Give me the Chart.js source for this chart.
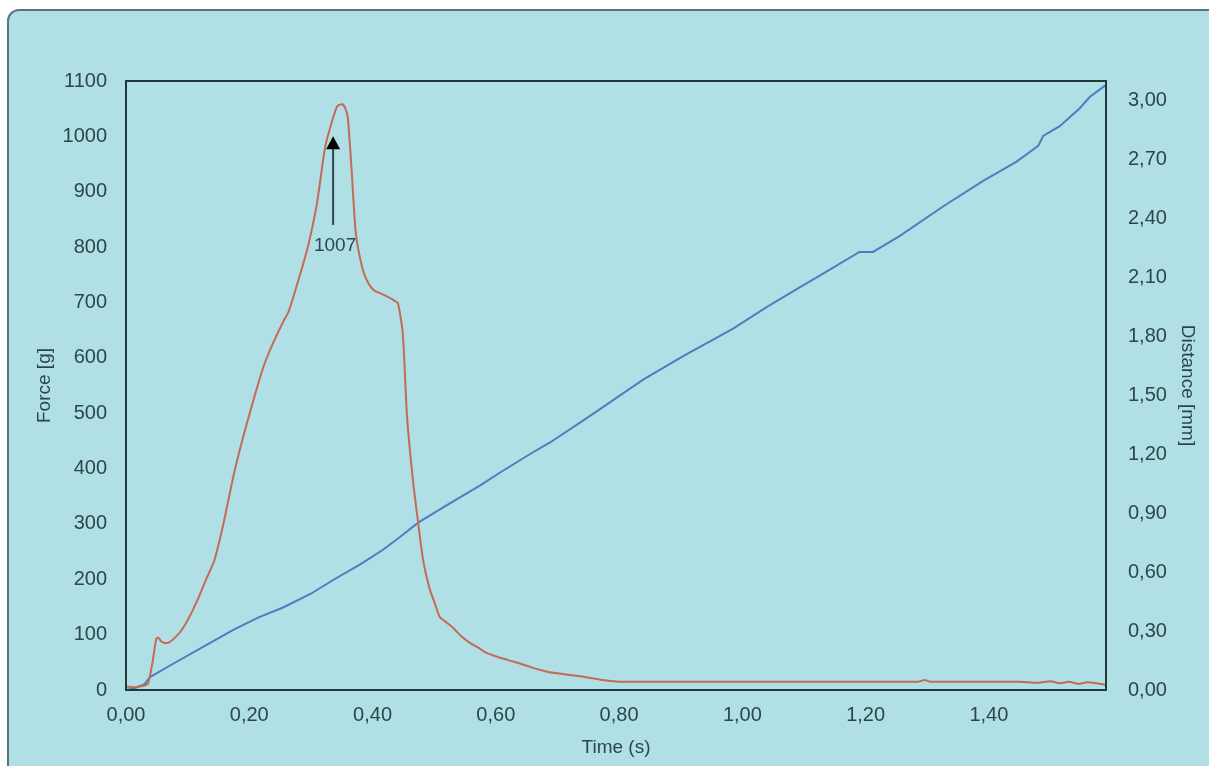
<!DOCTYPE html>
<html>
<head>
<meta charset="utf-8">
<script src="https://cdn.jsdelivr.net/npm/chart.js@4"></script>
<style>
  html, body { margin: 0; padding: 0; background: #fff; overflow: hidden; }
  #panel {
    position: absolute; left: 7px; top: 9px; width: 1220px; height: 780px;
    border: 2px solid #56777b; border-radius: 12px; background: #b0e0e6;
  }
  #wrap { position: absolute; left: 0; top: 0; width: 1209px; height: 766px; }
</style>
</head>
<body>
<div id="panel"></div>
<div id="wrap"><canvas id="graph-force" width="1209" height="766"></canvas></div>
<script>
// force curve (time in s, force in g)
const forceTime = [0.000, 0.010, 0.020, 0.030, 0.036, 0.043, 0.049, 0.052, 0.057, 0.063,
  0.070, 0.080, 0.090, 0.101, 0.115, 0.130, 0.143, 0.158, 0.174, 0.186,
  0.198, 0.211, 0.224, 0.240, 0.255, 0.264, 0.281, 0.295, 0.310, 0.323,
  0.335, 0.343, 0.351, 0.356, 0.360, 0.366, 0.373, 0.384, 0.393, 0.402,
  0.412, 0.425, 0.433, 0.441, 0.449, 0.456, 0.466, 0.474, 0.482, 0.493,
  0.500, 0.509, 0.520, 0.531, 0.545, 0.558, 0.572, 0.585, 0.602, 0.620,
  0.639, 0.660, 0.680, 0.693, 0.720, 0.747, 0.774, 0.800, 1.000, 1.200,
  1.285, 1.296, 1.305, 1.450, 1.480, 1.500, 1.515, 1.530, 1.545, 1.560,
  1.575, 1.590];
const forceValues = [6, 5, 6, 8, 12, 50, 92, 95, 88, 85,
  86, 95, 108, 128, 160, 200, 233, 300, 385, 440,
  489, 540, 587, 630, 665, 684, 745, 800, 880, 980,
  1030, 1055, 1058, 1050, 1033, 940, 824, 760, 735, 722,
  717, 710, 705, 699, 645, 493, 374, 302, 235, 181,
  160, 132, 122, 112, 96, 85, 76, 67, 60, 54,
  48, 40, 34, 31, 27, 23, 18, 15, 15, 15,
  15, 18, 15, 15, 13, 16, 12, 15, 11, 14,
  12, 9];

// distance curve (time in s, distance in mm)
const distTime = [0.000, 0.015, 0.030, 0.039, 0.080, 0.120, 0.174, 0.215, 0.255, 0.300,
  0.336, 0.380, 0.417, 0.445, 0.474, 0.520, 0.574, 0.607, 0.655, 0.688,
  0.736, 0.769, 0.839, 0.904, 0.985, 1.040, 1.093, 1.131, 1.190, 1.212,
  1.255, 1.325, 1.390, 1.445, 1.480, 1.488, 1.515, 1.547, 1.564, 1.590];
const distValues = [0.00, 0.01, 0.03, 0.066, 0.14, 0.21, 0.306, 0.37, 0.42, 0.49,
  0.56, 0.64, 0.714, 0.78, 0.852, 0.94, 1.04, 1.107, 1.20, 1.26,
  1.36, 1.43, 1.58, 1.70, 1.84, 1.95, 2.05, 2.12, 2.23, 2.23,
  2.31, 2.46, 2.59, 2.69, 2.77, 2.82, 2.87, 2.96, 3.02, 3.08];

// tick labels
const timeTicks = [0, 0.2, 0.4, 0.6, 0.8, 1.0, 1.2, 1.4];
const forceTicks = [0, 100, 200, 300, 400, 500, 600, 700, 800, 900, 1000, 1100];
const distTicks = [0, 0.3, 0.6, 0.9, 1.2, 1.5, 1.8, 2.1, 2.4, 2.7, 3.0];

// peak marker
const peakLabel = '1007';
const arrowTime = 0.336;
const arrowFrom = 840;
const arrowTo = 1000;
const labelForce = 802;

const textColor = '#2c474c';
const fontFamily = "'Liberation Sans', Arial, sans-serif";

function comma(v) {
  return v.toFixed(2).replace('.', ',');
}

const frameAndArrow = {
  id: 'frameAndArrow',
  afterDatasetsDraw(chart) {
    const {ctx, chartArea: a, scales} = chart;
    ctx.save();
    // plot frame
    ctx.strokeStyle = '#1f3a3d';
    ctx.lineWidth = 2;
    ctx.strokeRect(a.left, a.top, a.right - a.left, a.bottom - a.top);
    // arrow
    const x = scales.x.getPixelForValue(arrowTime);
    const y1 = scales.y.getPixelForValue(arrowFrom);
    const y2 = scales.y.getPixelForValue(arrowTo);
    ctx.strokeStyle = '#2c474c';
    ctx.lineWidth = 2;
    ctx.beginPath();
    ctx.moveTo(x, y1);
    ctx.lineTo(x, y2 + 10);
    ctx.stroke();
    ctx.fillStyle = '#000';
    ctx.beginPath();
    ctx.moveTo(x, y2);
    ctx.lineTo(x - 7, y2 + 13);
    ctx.lineTo(x + 7, y2 + 13);
    ctx.closePath();
    ctx.fill();
    ctx.fillStyle = textColor;
    ctx.font = '19px ' + fontFamily;
    ctx.textAlign = 'center';
    ctx.textBaseline = 'middle';
    ctx.fillText(peakLabel, x + 2, scales.y.getPixelForValue(labelForce));
    ctx.restore();
  }
};

const ctx = document.getElementById('graph-force');
const graph = new Chart(ctx, {
  type: 'line',
  data: {
    datasets: [{
      label: 'Force',
      data: forceTime.map((t, i) => ({x: t, y: forceValues[i]})),
      borderColor: '#c46a55',
      borderWidth: 2,
      pointRadius: 0,
      tension: 0.2,
      yAxisID: 'y',
    }, {
      label: 'Distance',
      data: distTime.map((t, i) => ({x: t, y: distValues[i]})),
      borderColor: '#4a7fc0',
      borderWidth: 2,
      pointRadius: 0,
      tension: 0,
      yAxisID: 'y1',
    }]
  },
  options: {
    responsive: false,
    animation: false,
    layout: {padding: {top: 81, left: 0, right: 0, bottom: 0}},
    plugins: {legend: {display: false}, tooltip: {enabled: false}},
    scales: {
      x: {
        type: 'linear',
        min: 0, max: 1.59,
        grid: {display: false, drawTicks: false},
        border: {display: false},
        afterBuildTicks: s => { s.ticks = timeTicks.map(v => ({value: v})); },
        afterFit: s => { s.height = 76; },
        ticks: {
          padding: 13, color: textColor,
          font: {family: fontFamily, size: 20},
          callback: v => comma(v),
        },
        title: {display: true, text: 'Time (s)', color: textColor,
          font: {family: fontFamily, size: 19}, padding: {top: 0, bottom: 7}},
      },
      y: {
        position: 'left',
        min: 0, max: 1100,
        grid: {display: false, drawTicks: false},
        border: {display: false},
        afterBuildTicks: s => { s.ticks = forceTicks.map(v => ({value: v})); },
        afterFit: s => { s.width = 126; },
        ticks: {padding: 19, color: textColor, font: {family: fontFamily, size: 20},
          callback: v => String(v)},
        title: {display: true, text: 'Force [g]', color: textColor,
          font: {family: fontFamily, size: 19}, padding: {top: 33, bottom: 0}},
      },
      y1: {
        position: 'right',
        min: 0, max: 3.1,
        grid: {display: false, drawTicks: false},
        border: {display: false},
        afterBuildTicks: s => { s.ticks = distTicks.map(v => ({value: v})); },
        afterFit: s => { s.width = 103; },
        ticks: {padding: 22, color: textColor,
          font: {family: fontFamily, size: 20}, callback: v => comma(v)},
        title: {display: true, text: 'Distance [mm]', color: textColor,
          font: {family: fontFamily, size: 19}, padding: {top: 10, bottom: 0}},
      },
    },
  },
  plugins: [frameAndArrow],
});
</script>
</body>
</html>
